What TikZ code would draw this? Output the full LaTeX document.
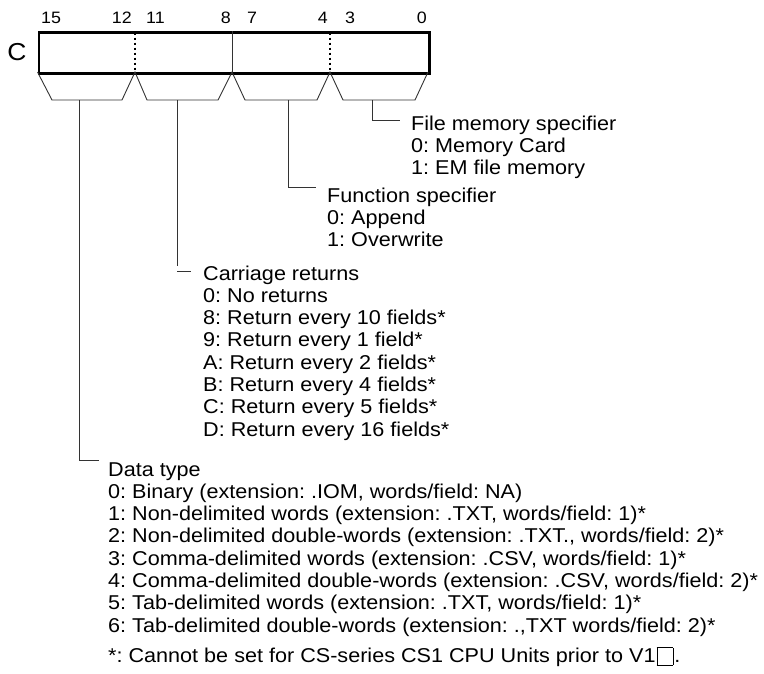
\documentclass[tikz,border=0pt]{standalone}
\usepackage{fontspec}
\setmainfont[FakeStretch=1.08]{Liberation Sans}
\begin{document}
\frenchspacing
\begin{tikzpicture}[x=1pt,y=-1pt,
  thinline/.style={line width=0.9pt, draw=black!80},
  boxline/.style={line width=2.6pt, draw=black},
  dotdiv/.style={line width=2.4pt, draw=black, dash pattern=on 2.5pt off 2.5pt},
  lbl/.style={anchor=base west, inner sep=0pt, font=\fontsize{20}{22.3}\selectfont},
  bitnum/.style={anchor=base, inner sep=0pt, font=\fontsize{16.5}{16.5}\selectfont},
  regname/.style={inner sep=0pt, font=\fontsize{24.5}{24.5}\selectfont}]
\useasboundingbox (0,0) rectangle (764,673);
% register box
\node[regname] (C) at (17,52) {C};
\coordinate (tl) at (37.5,31);
\node[boxline, draw, inner sep=0pt, minimum width=390.5pt, minimum height=41pt, anchor=north west] (reg) at (tl) {};
\coordinate (d1t) at (135,32.5); \coordinate (d1b) at (135,72);
\coordinate (d2t) at (232,31); \coordinate (d2b) at (232,72);
\coordinate (d3t) at (330,32.5); \coordinate (d3b) at (330,72);
\draw[dotdiv] (d1t) -- (d1b);
\draw[thinline] (d2t) -- (d2b);
\draw[dotdiv] (d3t) -- (d3b);
% bit numbers
\node[bitnum, anchor=base west] (b15) at (41,23) {15};
\node[bitnum, anchor=base east] (b12) at (132,23) {12};
\node[bitnum, anchor=base west] (b11) at (146,23) {11};
\node[bitnum, anchor=base east] (b8) at (231,23) {8};
\node[bitnum, anchor=base west] (b7) at (247,23) {7};
\node[bitnum, anchor=base east] (b4) at (328,23) {4};
\node[bitnum, anchor=base west] (b3) at (345,23) {3};
\node[bitnum, anchor=base east] (b0) at (427,23) {0};
% trapezoids
\draw[thinline] (37.5,72) -- (52,100) -- (122,100) -- (d1b)
  -- (147,100) -- (218,100) -- (d2b)
  -- (245,100) -- (317,100) -- (d3b)
  -- (343,100) -- (415,100) -- (428,72);
% labels
\node[lbl] (fm) at (411,130) {\begin{tabular}[t]{@{}l@{}}File memory specifier\\0: Memory Card\\1: EM file memory\end{tabular}};
\node[lbl] (fs) at (327,202) {\begin{tabular}[t]{@{}l@{}}Function specifier\\0: Append\\1: Overwrite\end{tabular}};
\node[lbl] (cr) at (203,280) {\begin{tabular}[t]{@{}l@{}}Carriage returns\\0: No returns\\8: Return every 10 fields*\\9: Return every 1 field*\\A: Return every 2 fields*\\B: Return every 4 fields*\\C: Return every 5 fields*\\D: Return every 16 fields*\end{tabular}};
\node[lbl] (dt) at (108,476) {\begin{tabular}[t]{@{}l@{}}Data type\\0: Binary (extension: .IOM, words/field: NA)\\1: Non-delimited words (extension: .TXT, words/field: 1)*\\2: Non-delimited double-words (extension: .TXT., words/field: 2)*\\3: Comma-delimited words (extension: .CSV, words/field: 1)*\\4: Comma-delimited double-words (extension: .CSV, words/field: 2)*\\5: Tab-delimited words (extension: .TXT, words/field: 1)*\\6: Tab-delimited double-words (extension: .,TXT words/field: 2)*\end{tabular}};
\node[lbl] (fn) at (108,662) {*: Cannot be set for CS-series CS1 CPU Units prior to V1{\setlength{\fboxsep}{0pt}\setlength{\fboxrule}{0.9pt}\hspace{1pt}\raisebox{-2.5pt}{\fbox{\rule{0pt}{16.5pt}\hspace{15pt}}}\hspace{1pt}}.};
% connectors
\coordinate (s4) at (372,100); \coordinate (e4) at (400,120);
\draw[thinline] (s4) |- (e4);
\coordinate (s3) at (288,100); \coordinate (e3) at (316,187);
\draw[thinline] (s3) |- (e3);
\coordinate (s2) at (177,100); \coordinate (m2) at (177,266);
\coordinate (t2a) at (177,271); \coordinate (t2b) at (191,271);
\draw[thinline] (s2) -- (m2);
\draw[thinline] (t2a) -- (t2b);
\coordinate (s1) at (79,100); \coordinate (e1) at (99,460);
\draw[thinline] (s1) |- (e1);
\end{tikzpicture}
\end{document}
